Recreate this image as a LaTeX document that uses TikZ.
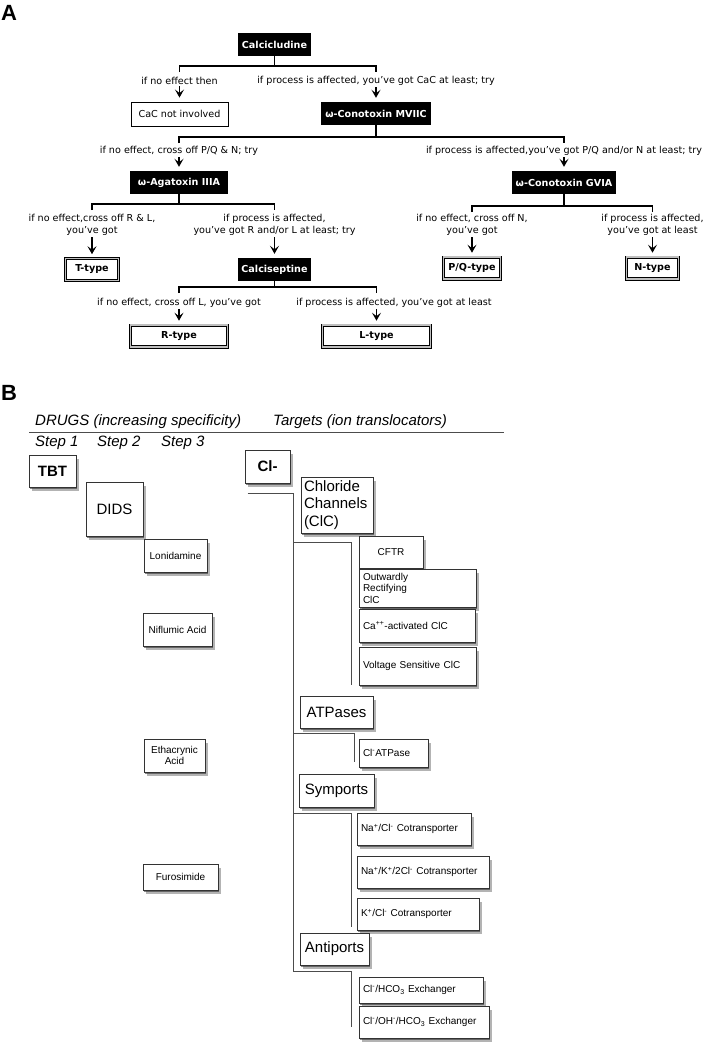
\documentclass[tikz,border=0pt]{standalone}
\usepackage{fontspec}
\setmainfont{Liberation Sans}
\newfontfamily\verd{DejaVu Sans}
\usetikzlibrary{arrows.meta,shadows}
\newcommand{\fontA}{\verd\fontsize{9.6}{12}\selectfont}
\newcommand{\fontBig}{\fontsize{15}{17.5}\selectfont}
\newcommand{\fontSmall}{\fontsize{10}{11.5}\selectfont}

\begin{document}
\begin{tikzpicture}[x=1pt, y=-1pt, >={Stealth[length=8pt,width=9pt,inset=3.5pt]},
	toxin/.style={fill=black, text=white, font=\fontA\bfseries, minimum height=23pt, inner xsep=3.5pt},
	outbox/.style={draw, line width=0.9pt, font=\fontA, minimum height=24pt},
	typebox/.style={draw, double=gray!50, double distance=1.5pt, line width=0.9pt, font=\fontA\bfseries, minimum height=21.7pt},
	cond/.style={font=\fontA, align=center, inner sep=1.5pt},
	fork/.style={line width=1.6pt},
	arr/.style={->, line width=1.6pt, shorten >=4pt},
	box/.style={draw=black!80, line width=0.8pt, fill=white,
		drop shadow={shadow xshift=2.5pt, shadow yshift=-4pt, opacity=0.35, fill=black!85},
		drop shadow={shadow xshift=1.2pt, shadow yshift=-2.2pt, opacity=0.55, fill=black!85}},
	big/.style={box, font=\fontBig},
	drug/.style={box, font=\fontSmall, align=center},
	leaf/.style={box, font=\fontSmall, align=left, inner xsep=4pt, inner ysep=1pt},
	head/.style={font=\fontBig\itshape, anchor=west, inner sep=0pt},
	twig/.style={draw=black!70, line width=0.7pt}]
		\useasboundingbox (0,0) rectangle (707,1050);

		% A
		\node[font=\fontsize{22}{22}\selectfont\bfseries, anchor=base west, inner sep=0pt] (lblA) at (1,20) {A};
		\node[toxin] (calcicludine) at (274.5,44.5) {Calcicludine};
		\node[outbox, minimum width=97pt] (cac) at (179.5,114) {CaC not involved};
		\node[toxin, minimum width=110pt] (mviic) at (376,113.5) {ω-Conotoxin MVIIC};
		\node[toxin, minimum width=98pt] (agatoxin) at (179,182.5) {ω-Agatoxin IIIA};
		\node[toxin, minimum width=102pt] (gvia) at (564,182.5) {ω-Conotoxin GVIA};
		\node[typebox, minimum width=52.7pt] (ttype) at (92,269.5) {T-type};
		\node[toxin, minimum width=71pt] (calciseptine) at (274.5,269.5) {Calciseptine};
		\node[typebox, minimum width=56.7pt] (pqtype) at (472,268) {P/Q-type};
		\node[typebox, minimum width=51.7pt] (ntype) at (652.5,268) {N-type};
		\node[typebox, minimum width=96.7pt] (rtype) at (179,336) {R-type};
		\node[typebox, minimum width=107.7pt] (ltype) at (376.5,336) {L-type};

		\draw[fork] (calcicludine.south) -- (calcicludine |- 0,66);
		\draw[fork] (cac |- 0,72) -- (cac |- 0,66) -- (mviic |- 0,66) -- (mviic |- 0,72);
		\draw[fork] (mviic.south) -- (mviic |- 0,137);
		\draw[fork] (agatoxin |- 0,143) -- (agatoxin |- 0,137) -- (gvia |- 0,137) -- (gvia |- 0,143);
		\draw[fork] (agatoxin.south) -- (agatoxin |- 0,204);
		\draw[fork] (ttype |- 0,210) -- (ttype |- 0,204) -- (calciseptine |- 0,204) -- (calciseptine |- 0,210);
		\draw[fork] (gvia.south) -- (gvia |- 0,206);
		\draw[fork] (pqtype |- 0,212) -- (pqtype |- 0,206) -- (ntype |- 0,206) -- (ntype |- 0,212);
		\draw[fork] (calciseptine.south) -- (calciseptine |- 0,287);
		\draw[fork] (rtype |- 0,293) -- (rtype |- 0,287) -- (ltype |- 0,287) -- (ltype |- 0,293);

		\node[cond] (c1) at (cac |- 0,81) {if no effect then};
		\node[cond] (c2) at (mviic |- 0,81) {if process is affected, you’ve got CaC at least; try};
		\node[cond] (c3) at (agatoxin |- 0,151) {if no effect, cross off P/Q \& N; try};
		\node[cond] (c4) at (gvia |- 0,151) {if process is affected,you’ve got P/Q and/or N at least; try};
		\node[cond] (c5) at (ttype |- 0,225) {if no effect,cross off R \& L,\\you’ve got};
		\node[cond] (c6) at (calciseptine |- 0,225) {if process is affected,\\you’ve got R and/or L at least; try};
		\node[cond] (c7) at (pqtype |- 0,225) {if no effect, cross off N,\\you’ve got};
		\node[cond] (c8) at (ntype |- 0,225) {if process is affected,\\you’ve got at least};
		\node[cond] (c9) at (rtype |- 0,303) {if no effect, cross off L, you’ve got};
		\node[cond] (c10) at (394,303) {if process is affected, you’ve got at least};

		\draw[arr] (c1.south) -- (cac.north);
		\draw[arr] (c2.south) -- (mviic.north);
		\draw[arr] (c3.south) -- (agatoxin.north);
		\draw[arr] (c4.south) -- (gvia.north);
		\draw[arr] (c5.south) -- (ttype.north);
		\draw[arr] (c6.south) -- (calciseptine.north);
		\draw[arr] (c7.south) -- (pqtype.north);
		\draw[arr] (c8.south) -- (ntype.north);
		\draw[arr] (c9.south) -- (rtype.north);
		\draw[arr] (ltype |- c10.south) -- (ltype.north);

		% B
		\node[font=\fontsize{22}{22}\selectfont\bfseries, anchor=base west, inner sep=0pt] (lblB) at (1,400) {B};
		\node[head] (drugs) at (35,422) {DRUGS (increasing specificity)};
		\node[head] (targets) at (273,422) {Targets (ion translocators)};
		\draw[twig] (29,432) -- (504,432);
		\node[head] (step1) at (35,443) {Step 1};
		\node[head] (step2) at (97,443) {Step 2};
		\node[head] (step3) at (161,443) {Step 3};

		\node[big, font=\fontBig\bfseries, minimum width=47pt, minimum height=32pt] (tbt) at (52.5,471) {TBT};
		\node[big, minimum width=57pt, minimum height=54pt] (dids) at (114.5,509) {DIDS};
		\node[drug, minimum width=63pt, minimum height=33pt] (lonidamine) at (175.5,555.5) {Lonidamine};
		\node[drug, minimum width=69pt, minimum height=33pt] (niflumic) at (177.5,629.5) {Niflumic Acid};
		\node[drug, minimum width=61pt, minimum height=33pt] (ethacrynic) at (174.5,755.5) {Ethacrynic\\Acid};
		\node[drug, minimum width=75pt, minimum height=26pt] (furosimide) at (180.5,877) {Furosimide};

		\node[big, font=\fontBig\bfseries, minimum width=45pt, minimum height=33pt] (cl) at (267.5,466.5) {Cl-};
		\node[big, align=left, text width=66pt, inner xsep=3pt, inner ysep=1pt, minimum height=56pt] (chloride) at (337,505) {Chloride\\Channels\\(ClC)};
		\node[leaf, align=center, minimum width=64pt, minimum height=32pt] (cftr) at (391,552) {CFTR};
		\node[leaf, text width=109pt, minimum height=38pt] (outward) at (417.5,588) {Outwardly\\Rectifying\\ClC};
		\node[leaf, text width=108pt, minimum height=33pt] (caact) at (417,625.5) {Ca\textsuperscript{++}-activated ClC};
		\node[leaf, text width=109pt, minimum height=38pt] (voltage) at (417.5,666) {Voltage Sensitive ClC};
		\node[big, minimum width=73pt, minimum height=32pt] (atpases) at (336.5,712) {ATPases};
		\node[leaf, text width=61pt, minimum height=28pt] (clatpase) at (393.5,753) {Cl\textsuperscript{-}ATPase};
		\node[big, minimum width=75pt, minimum height=33pt] (symports) at (336.5,790.5) {Symports};
		\node[leaf, text width=106pt, minimum height=32pt] (nacl) at (414,829) {Na\textsuperscript{+}/Cl\textsuperscript{-} Cotransporter};
		\node[leaf, text width=124pt, minimum height=32pt] (nak2cl) at (423,872) {Na\textsuperscript{+}/K\textsuperscript{+}/2Cl\textsuperscript{-} Cotransporter};
		\node[leaf, text width=114pt, minimum height=32pt] (kcl) at (418,914) {K\textsuperscript{+}/Cl\textsuperscript{-} Cotransporter};
		\node[big, minimum width=69pt, minimum height=32pt] (antiports) at (334.5,949) {Antiports};
		\node[leaf, text width=116pt, minimum height=26pt] (hco3) at (421,990) {Cl\textsuperscript{-}/HCO\textsubscript{3} Exchanger};
		\node[leaf, text width=122pt, minimum height=32pt] (ohhco3) at (424,1022) {Cl\textsuperscript{-}/OH\textsuperscript{-}/HCO\textsubscript{3} Exchanger};

		\draw[twig] ([xshift=3pt,yshift=-10pt]cl.south west) -| (293,971) -- (351,971) -- (351,1027);
		\draw[twig] (293,542) -- (351,542) -- (351,685);
		\draw[twig] (293,733) -- (354,733) -- (354,762);
		\draw[twig] (293,813) -- (351,813) -- (351,927);
\end{tikzpicture}
\end{document}
